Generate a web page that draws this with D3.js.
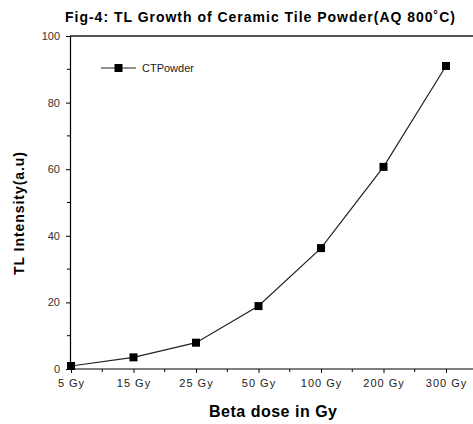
<!DOCTYPE html>
<html>
<head>
<meta charset="utf-8">
<script src="https://cdn.jsdelivr.net/npm/d3@7"></script>
<style>
  body { margin: 0; background: #fff; }
  svg { display: block; font-family: "Liberation Sans", Arial, sans-serif; }
</style>
</head>
<body>
<div id="vis"></div>
<script>
const DOSES = ["5Gy", "15Gy", "25Gy", "50Gy", "100Gy", "200Gy", "300Gy"];
const INTENSITY = [0.9, 3.5, 7.9, 18.9, 36.3, 60.7, 91];
const Y_TICKS = [0, 20, 40, 60, 80, 100];
const Y_MINOR = [10, 30, 50, 70, 90];

const FRAME_WIDTH = 473;
const FRAME_HEIGHT = 424;
const MARGINS = {left: 70, right: 0, top: 36, bottom: 55};

const VIS_WIDTH = FRAME_WIDTH - MARGINS.left - MARGINS.right;
const VIS_HEIGHT = FRAME_HEIGHT - MARGINS.top - MARGINS.bottom;

const FRAME = d3.select("#vis")
                .append("svg")
                .attr("width", FRAME_WIDTH)
                .attr("height", FRAME_HEIGHT);

const X_SCALE = d3.scalePoint()
                  .domain(DOSES)
                  .range([1, 376]);

const Y_SCALE = d3.scaleLinear()
                  .domain([0, 100])
                  .range([VIS_HEIGHT, 0]);

const G = FRAME.append("g")
               .attr("transform", "translate(" + MARGINS.left + "," + MARGINS.top + ")");

// top frame line
G.append("line")
  .attr("x1", 0).attr("x2", VIS_WIDTH)
  .attr("y1", 0).attr("y2", 0)
  .attr("stroke", "#555").attr("stroke-width", 2);

// x axis
const xAxis = G.append("g")
  .attr("transform", "translate(0," + VIS_HEIGHT + ")")
  .call(d3.axisBottom(X_SCALE).tickSize(4).tickPadding(6).tickSizeOuter(0));
xAxis.select(".domain").attr("d", "M0,0H" + VIS_WIDTH).attr("stroke-width", 1.2);
xAxis.selectAll("text")
  .attr("font-size", "11px").attr("fill", "#222")
  .attr("letter-spacing", "1px")
  .text((d) => d.replace("Gy", " Gy"));

// minor x ticks halfway between categories
const STEP = X_SCALE.step();
G.append("g").selectAll("line")
  .data(DOSES.slice(0, -1))
  .enter().append("line")
  .attr("x1", (d) => X_SCALE(d) + STEP / 2)
  .attr("x2", (d) => X_SCALE(d) + STEP / 2)
  .attr("y1", VIS_HEIGHT).attr("y2", VIS_HEIGHT + 3)
  .attr("stroke", "#000");

// y axis
const yAxis = G.append("g")
  .call(d3.axisLeft(Y_SCALE).tickValues(Y_TICKS).tickSize(4).tickPadding(6).tickSizeOuter(0));
yAxis.select(".domain").attr("stroke-width", 1.2);
yAxis.selectAll("text").attr("font-size", "11px").attr("fill", "#333");

G.append("g").selectAll("line")
  .data(Y_MINOR)
  .enter().append("line")
  .attr("x1", -3).attr("x2", 0)
  .attr("y1", (d) => Y_SCALE(d)).attr("y2", (d) => Y_SCALE(d))
  .attr("stroke", "#000");

// data line
const line = d3.line()
  .x((d, i) => X_SCALE(DOSES[i]))
  .y((d) => Y_SCALE(d));

G.append("path")
  .datum(INTENSITY)
  .attr("d", line)
  .attr("fill", "none")
  .attr("stroke", "#222")
  .attr("stroke-width", 1.2);

G.selectAll("rect.pt")
  .data(INTENSITY)
  .enter().append("rect")
  .attr("class", "pt")
  .attr("x", (d, i) => X_SCALE(DOSES[i]) - 4)
  .attr("y", (d) => Y_SCALE(d) - 4)
  .attr("width", 8).attr("height", 8)
  .attr("fill", "#000");

// legend
const LEG = FRAME.append("g").attr("transform", "translate(101,68)");
LEG.append("line").attr("x1", 0).attr("x2", 35).attr("y1", 0).attr("y2", 0)
   .attr("stroke", "#222").attr("stroke-width", 1.2);
LEG.append("rect").attr("x", 13.5).attr("y", -4).attr("width", 8).attr("height", 8).attr("fill", "#000");
LEG.append("text").attr("x", 41).attr("y", 4).attr("font-size", "11px").attr("fill", "#222")
   .text("CTPowder");

// titles
FRAME.append("text")
  .attr("x", 65).attr("y", 22)
  .attr("textLength", 390).attr("lengthAdjust", "spacing")
  .attr("font-size", "14px").attr("font-weight", "bold")
  .text("Fig-4: TL Growth of Ceramic Tile Powder(AQ 800\u02DAC)");

FRAME.append("text")
  .attr("x", 209).attr("y", 417)
  .attr("textLength", 128).attr("lengthAdjust", "spacing")
  .attr("font-size", "16px").attr("font-weight", "bold")
  .text("Beta dose in Gy");

FRAME.append("text")
  .attr("transform", "translate(24,275) rotate(-90)")
  .attr("textLength", 123).attr("lengthAdjust", "spacing")
  .attr("font-size", "14px").attr("font-weight", "bold")
  .text("TL Intensity(a.u)");
</script>
</body>
</html>
